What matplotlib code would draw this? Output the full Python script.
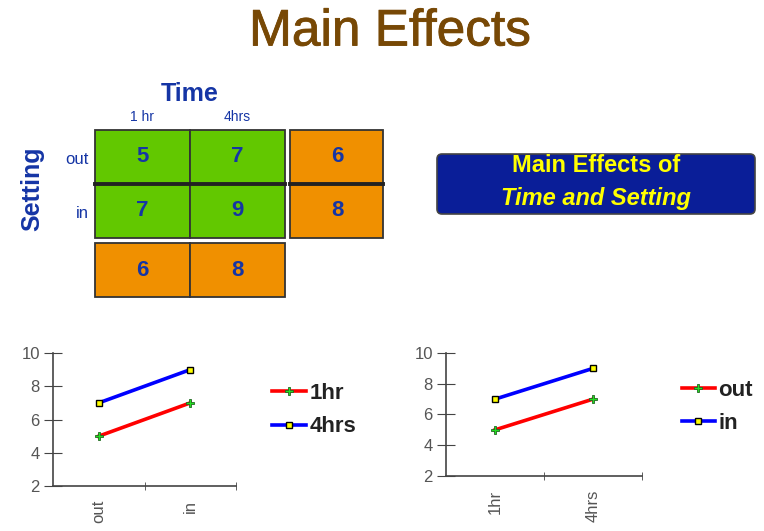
import matplotlib.pyplot as plt
import matplotlib.patheffects as pe
from matplotlib.patches import Rectangle, FancyBboxPatch
import numpy as np

plt.rcParams['font.family'] = ['Liberation Sans', 'DejaVu Sans']

# data
times = ["1 hr", "4hrs"]
settings = ["out", "in"]
cell_means = [[5, 7], [7, 9]]      # rows: setting, cols: time
row_means = [6, 8]                 # setting main effect
col_means = [6, 8]                 # time main effect

setting_ticks = ["out", "in"]
time_ticks = ["1hr", "4hrs"]
hr1 = [5, 7]
hrs4 = [7, 9]
out_vals = [5, 7]
in_vals = [7, 9]

blue_txt = "#1535A5"
green = "#62C800"
orange = "#F09000"

fig = plt.figure(figsize=(7.64, 5.31), dpi=100)

# overlay in pixel space for the table and the text boxes
ov = fig.add_axes([0, 0, 1, 1])
ov.set_xlim(0, 764)
ov.set_ylim(531, 0)
ov.axis("off")

ov.text(390, 32, "Main Effects", ha="center", va="center", fontsize=37,
        color="#774805",
        path_effects=[pe.withStroke(linewidth=0.6, foreground="#774805")])

x0, y0, cw, ch, gap = 95, 130, 95, 54, 5
for i, row in enumerate(cell_means):
    for j, v in enumerate(row):
        ov.add_patch(Rectangle((x0 + j * cw, y0 + i * ch), cw, ch,
                               facecolor=green, edgecolor="#333333", lw=1.3))
        ov.text(x0 + j * cw + cw / 2, y0 + i * ch + ch / 2, str(v),
                ha="center", va="center", fontsize=16, fontweight="bold",
                color=blue_txt)
for i, v in enumerate(row_means):
    xr = x0 + 2 * cw + gap
    ov.add_patch(Rectangle((xr, y0 + i * ch), cw - 2, ch,
                           facecolor=orange, edgecolor="#333333", lw=1.3))
    ov.text(xr + cw / 2, y0 + i * ch + ch / 2, str(v), ha="center",
            va="center", fontsize=16, fontweight="bold", color=blue_txt)
for j, v in enumerate(col_means):
    yb = y0 + 2 * ch + gap
    ov.add_patch(Rectangle((x0 + j * cw, yb), cw, ch,
                           facecolor=orange, edgecolor="#333333", lw=1.3))
    ov.text(x0 + j * cw + cw / 2, yb + ch / 2, str(v), ha="center",
            va="center", fontsize=16, fontweight="bold", color=blue_txt)
# thick row dividers
ov.plot([x0, x0 + 2 * cw], [y0 + ch, y0 + ch], color="#222222", lw=2.8)
ov.plot([x0 + 2 * cw + gap, x0 + 3 * cw + gap - 2], [y0 + ch, y0 + ch],
        color="#222222", lw=2.8)

ov.text(x0 + cw, 94, "Time", ha="center", va="center", fontsize=18,
        fontweight="bold", color=blue_txt)
for j, t in enumerate(times):
    ov.text(x0 + j * cw + cw / 2, 117, t, ha="center", va="center",
            fontsize=10, color=blue_txt)
for i, s in enumerate(settings):
    ov.text(89, y0 + i * ch + ch / 2 + 2, s, ha="right", va="center",
            fontsize=12, color=blue_txt)
ov.text(32, y0 + ch + 5, "Setting", ha="center", va="center", rotation=90,
        fontsize=18, fontweight="bold", color=blue_txt)

box = FancyBboxPatch((437, 154), 318, 60, boxstyle="round,pad=0,rounding_size=5",
                     facecolor="#0A1E98", edgecolor="#444444", lw=1.2)
ov.add_patch(box)
ov.text(596, 166, "Main Effects of", ha="center", va="center", fontsize=17,
        fontweight="bold", color="#FFFF00")
ov.text(596, 198, "Time and Setting", ha="center", va="center", fontsize=17,
        fontweight="bold", fontstyle="italic", color="#FFFF00")


def line_panel(ax, xticks, s1, s2, lab1, lab2, leg_y):
    x = np.arange(len(xticks))
    ax.plot(x, s1, color="red", lw=2.6, marker="P", ms=6, mfc="#22DD22",
            mec="#226622", mew=0.6, label=lab1)
    ax.plot(x, s2, color="blue", lw=2.6, marker="s", ms=5, mfc="#FFFF00",
            mec="black", mew=1, label=lab2)
    ax.set_xlim(-0.5, 1.5)
    ax.set_ylim(2, 10)
    ax.set_yticks([2, 4, 6, 8, 10])
    ax.set_xticks(x)
    ax.set_xticklabels(xticks, rotation=90, fontsize=12, color="#555555")
    ax.set_xticks([0.5, 1.5], minor=True)
    ax.tick_params(axis="x", which="major", length=0, pad=10)
    ax.tick_params(axis="x", which="minor", direction="inout", length=6,
                   color="#444444")
    ax.tick_params(axis="y", direction="inout", length=13, labelsize=12,
                   labelcolor="#555555", color="#444444", pad=3)
    for side in ["top", "right"]:
        ax.spines[side].set_visible(False)
    for side in ["left", "bottom"]:
        ax.spines[side].set_color("#444444")
        ax.spines[side].set_linewidth(1.2)
    ax.legend(loc="center left", bbox_to_anchor=leg_y, frameon=False,
              prop={"size": 16, "weight": "bold"}, handlelength=1.5,
              handletextpad=0.15, labelspacing=0.55, labelcolor="#222222")


ax1 = fig.add_axes([0.0694, 0.0847, 0.2395, 0.2505])
line_panel(ax1, setting_ticks, hr1, hrs4, "1hr", "4hrs", (1.09, 0.57))

ax2 = fig.add_axes([0.5838, 0.1036, 0.2565, 0.2316])
line_panel(ax2, time_ticks, out_vals, in_vals, "out", "in", (1.1, 0.56))

fig.savefig("out.png", dpi=100)
